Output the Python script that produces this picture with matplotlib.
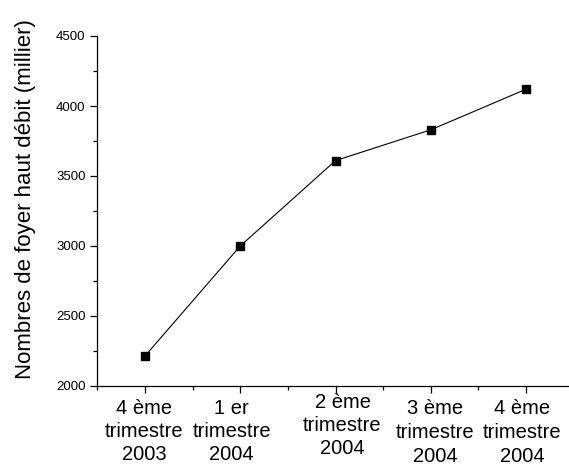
import matplotlib
matplotlib.use("Agg")
import matplotlib.pyplot as plt
from matplotlib.ticker import MultipleLocator
from matplotlib.transforms import ScaledTranslation

# foyers haut debit par trimestre (milliers)
periodes = ["4 ème\ntrimestre\n2003", "1 er\ntrimestre\n2004", "2 ème\ntrimestre\n2004",
            "3 ème\ntrimestre\n2004", "4 ème\ntrimestre\n2004"]
positions = [1, 2, 3, 4, 5]
foyers = [2214, 3000, 3610, 3830, 4120]

plt.rcParams['font.family'] = ['Liberation Sans', 'DejaVu Sans']

fig = plt.figure(figsize=(5.69, 4.65), dpi=100)
ax = fig.add_axes([97.3 / 569, 1 - 386 / 465, 1 - 97.3 / 569, 350 / 465])

ax.plot(positions, foyers, color='black', linewidth=0.8, marker='s',
        markersize=6, markerfacecolor='black', markeredgecolor='black')

ax.set_xlim(0.5, 5.45)
ax.set_ylim(2000, 4500)
ax.yaxis.set_major_locator(MultipleLocator(500))
ax.yaxis.set_minor_locator(MultipleLocator(250))
ax.xaxis.set_minor_locator(MultipleLocator(0.5))
ax.set_xticks(positions)
ax.set_xticklabels(periodes, fontsize=14.5, linespacing=1.3)

for s in ['top', 'right']:
    ax.spines[s].set_visible(False)
for s in ['left', 'bottom']:
    ax.spines[s].set_linewidth(0.9)
ax.tick_params(which='major', direction='out', length=5, width=0.9, labelsize=9.5)
ax.tick_params(which='minor', direction='out', length=3, width=0.9)
ax.tick_params(axis='x', which='major', labelsize=14.5, pad=4)

# les etiquettes de l'original ne sont pas bien alignees
decal = [(-1, 0), (-8.5, 0), (7, 6), (4.5, -1), (-4, -1)]
for lab, (dx, dy) in zip(ax.get_xticklabels(), decal):
    lab.set_transform(lab.get_transform() + ScaledTranslation(dx / 100, dy / 100, fig.dpi_scale_trans))

ax.set_ylabel("Nombres de foyer haut débit (millier)", fontsize=16)
ax.yaxis.set_label_coords(-0.13, 0.534)

fig.savefig("out.png", dpi=100)
